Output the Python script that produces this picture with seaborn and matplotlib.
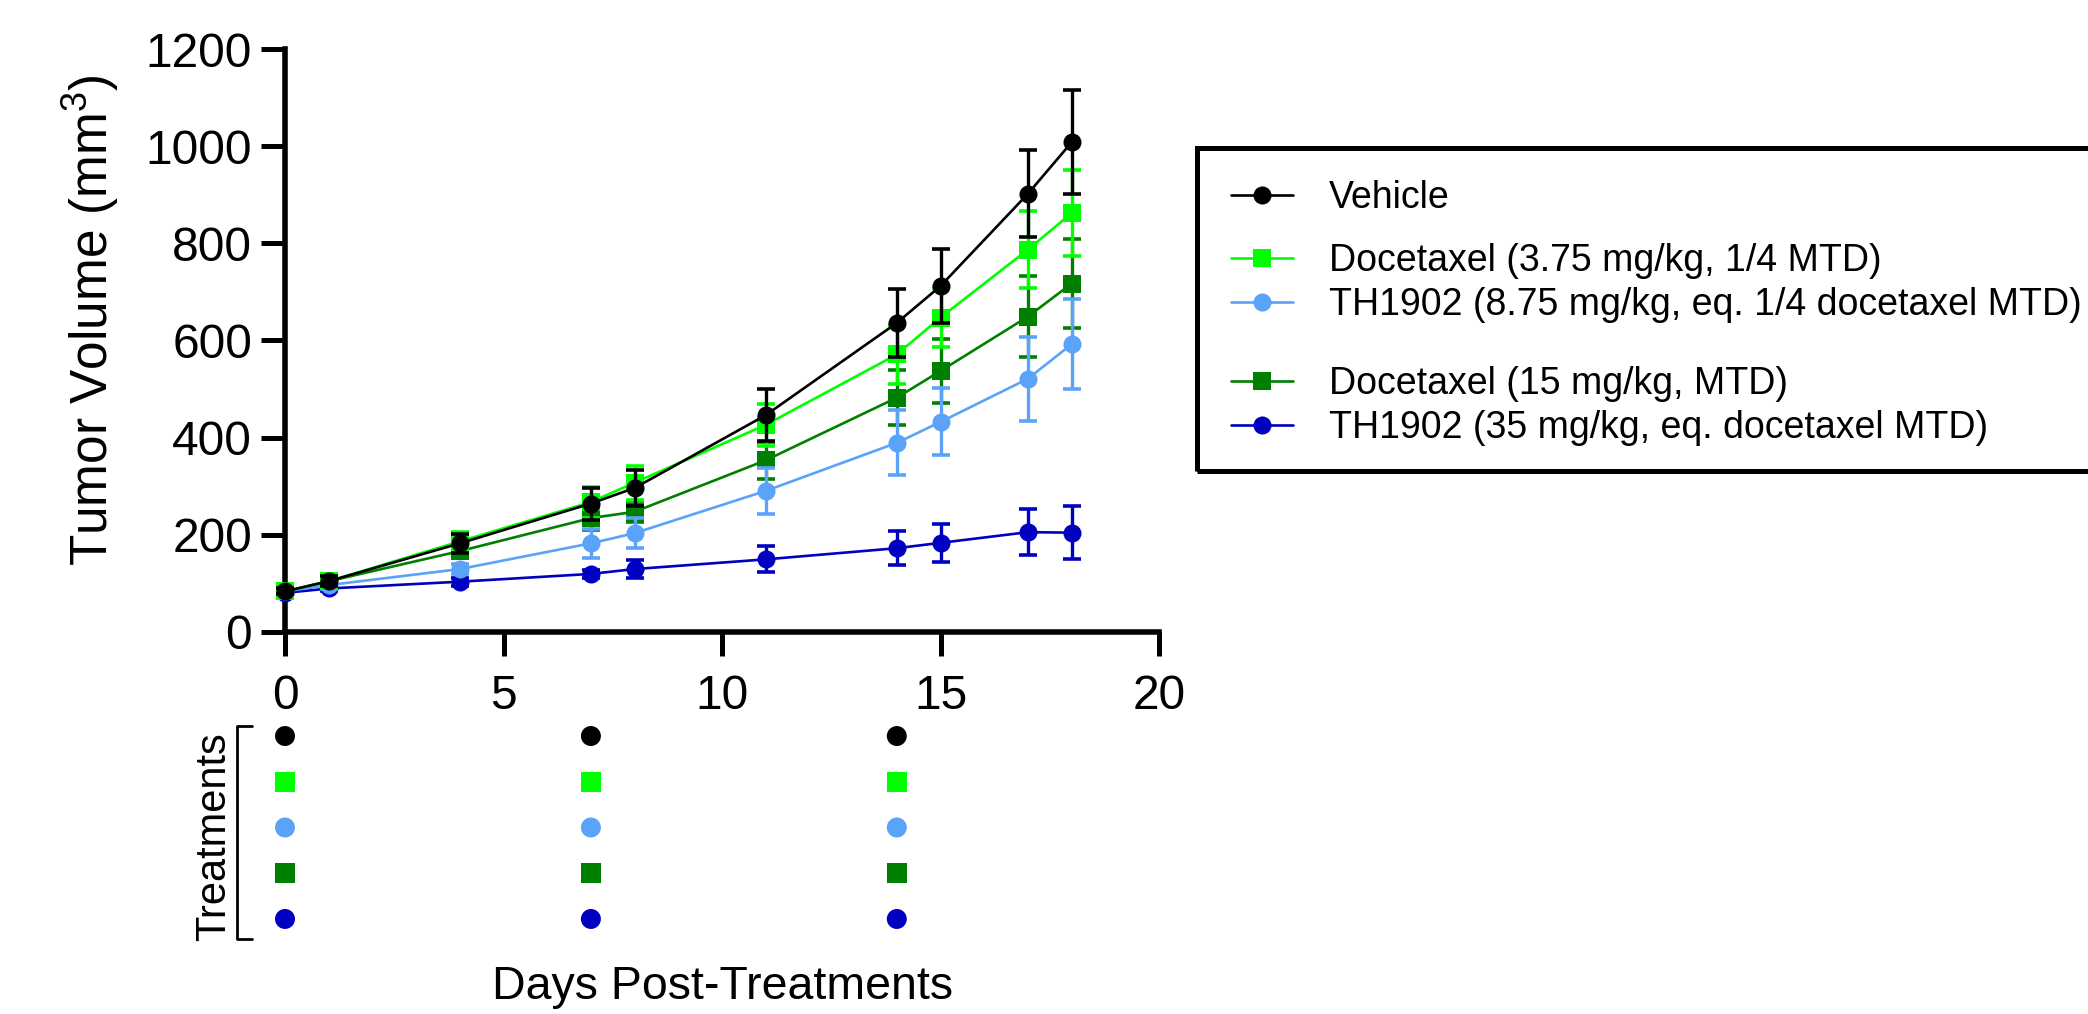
import numpy as np
import pandas as pd
import matplotlib
matplotlib.use("Agg")
import matplotlib.pyplot as plt
import seaborn as sns
from matplotlib.patches import Rectangle

# ---------------- data ----------------
days = [0, 1, 4, 7, 8, 11, 14, 15, 17, 18]
groups = [
    "Vehicle",
    "Docetaxel (3.75 mg/kg, 1/4 MTD)",
    "TH1902 (8.75 mg/kg, eq. 1/4 docetaxel MTD)",
    "Docetaxel (15 mg/kg, MTD)",
    "TH1902 (35 mg/kg, eq. docetaxel MTD)",
]
colors = ["#000000", "#00FF00", "#5BA3F8", "#007F00", "#0000C0"]
markers = ["o", "s", "o", "s", "o"]

vehicle_mean = [83, 104, 182, 264, 296, 446, 636, 712, 902, 1008]
vehicle_sem = [6, 10, 20, 33, 37, 53, 70, 76, 90, 107]
doc375_mean = [83, 104, 186, 267, 307, 426, 571, 647, 787, 862]
doc375_sem = [6, 10, 20, 32, 35, 44, 61, 60, 80, 88]
th875_mean = [83, 96, 129, 182, 203, 290, 389, 432, 521, 592]
th875_sem = [5, 8, 10, 30, 31, 48, 67, 69, 87, 93]
doc15_mean = [83, 104, 166, 234, 247, 353, 482, 537, 649, 717]
doc15_sem = [5, 9, 15, 25, 22, 38, 57, 66, 84, 92]
th35_mean = [80, 89, 103, 119, 129, 149, 172, 183, 205, 204]
th35_sem = [4, 6, 8, 9, 19, 27, 35, 39, 48, 54]

means = [vehicle_mean, doc375_mean, th875_mean, doc15_mean, th35_mean]
sems = [vehicle_sem, doc375_sem, th875_sem, doc15_sem, th35_sem]

treatment_days = [0, 7, 14]

x_ticks = [0, 5, 10, 15, 20]
y_ticks = [0, 200, 400, 600, 800, 1000, 1200]

# ---------------- style ----------------
sns.set_theme(style="ticks")
plt.rcParams["font.family"] = ["Liberation Sans", "DejaVu Sans"]
plt.rcParams["mathtext.fontset"] = "custom"
plt.rcParams["mathtext.rm"] = "Liberation Sans"
plt.rcParams["mathtext.default"] = "regular"

W, H = 2088, 1014
fig = plt.figure(figsize=(W / 100, H / 100), dpi=100)
fig.patch.set_facecolor("white")

ax = fig.add_axes([285 / W, 1 - 631.7 / H, 874 / W, 582.6 / H])
ax.set_facecolor("white")

handles = []
n = len(groups)
for i in range(n):
    z = 3 + (n - i) * 2
    sns.lineplot(x=days, y=means[i], color=colors[i], marker=markers[i],
                 markersize=13, markeredgewidth=0, linewidth=1.9,
                 errorbar=None, legend=False, ax=ax, zorder=z + 1)
    line = ax.lines[-1]
    line.set_clip_on(False)
    handles.append(line)
    eb = ax.errorbar(days, means[i], yerr=sems[i], fmt="none", ecolor=colors[i],
                     elinewidth=2.4, capsize=6.5, capthick=2.6, zorder=z)
    for art in list(eb.lines[1]) + list(eb.lines[2]):
        art.set_clip_on(False)

ax.set_xlim(0, 20)
ax.set_ylim(0, 1200)
ax.set_xticks(x_ticks)
ax.set_yticks(y_ticks)
for s in ["top", "right"]:
    ax.spines[s].set_visible(False)
for s in ["left", "bottom"]:
    ax.spines[s].set_linewidth(4)
    ax.spines[s].set_color("black")
ax.tick_params(axis="both", length=17.6, width=3.6, color="black",
               labelsize=34.5, labelcolor="black")
ax.tick_params(axis="x", pad=13)
ax.tick_params(axis="y", pad=6)
ax.set_xlabel("")
ax.set_ylabel("Tumor Volume (mm$^{3}$)", fontsize=37, labelpad=18, color="black")
ax.yaxis.label.set_y(0.535)

# ---------------- legend ----------------
fig.add_artist(Rectangle((1197 / W, 1 - 471 / H), (2100 - 1197) / W, (471 - 148) / H,
                         transform=fig.transFigure, fill=False, lw=3.6,
                         edgecolor="black", clip_on=False))
leg_groups = [[0], [1, 2], [3, 4]]
leg_centers = [198, 283, 406]
for idxs, yc in zip(leg_groups, leg_centers):
    lg = fig.legend([handles[k] for k in idxs], [groups[k] for k in idxs],
                    loc="center left", bbox_to_anchor=(1231 / W, 1 - yc / H),
                    frameon=False, fontsize=27, handlelength=1.65,
                    handletextpad=0.96, borderpad=0, borderaxespad=0,
                    labelspacing=0.22)
    for t in lg.get_texts():
        t.set_color("black")

# ---------------- treatments panel ----------------
ax2 = fig.add_axes([285 / W, 1 - 939 / H, 874 / W, 213 / H])
ax2.set_xlim(0, 20)
ax2.set_ylim(4.438, -0.219)
ax2.axis("off")
rows = []
for gi, g in enumerate(groups):
    for d in treatment_days:
        rows.append({"day": d, "row": gi, "group": g})
tdf = pd.DataFrame(rows)
sns.scatterplot(data=tdf, x="day", y="row", hue="group", style="group",
                hue_order=groups, style_order=groups,
                palette=dict(zip(groups, colors)),
                markers=dict(zip(groups, markers)),
                s=207, linewidth=0, legend=False, ax=ax2, clip_on=False)
bx0, bx1 = (237 - 285) / 874, (252 - 285) / 874
ax2.plot([bx1, bx0, bx0, bx1], [1, 1, 0, 0], transform=ax2.transAxes,
         color="black", lw=2, clip_on=False)
fig.text(213.7 / W, 1 - 837 / H, "Treatments", rotation=90, ha="center",
         va="center", fontsize=30, color="black")
fig.text(722 / W, 1 - 999 / H, "Days Post-Treatments", ha="center",
         va="baseline", fontsize=33.5, color="black")

fig.savefig("out.png", dpi=100, facecolor="white")
